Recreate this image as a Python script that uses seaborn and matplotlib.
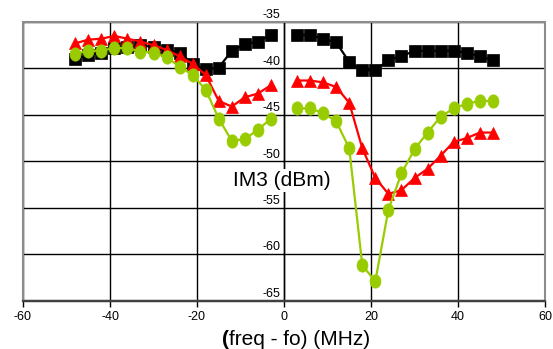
import numpy as np
import pandas as pd
import matplotlib
matplotlib.use("Agg")
import matplotlib.pyplot as plt
import matplotlib.transforms as mtransforms
from matplotlib.path import Path
from matplotlib.patches import Rectangle
import seaborn as sns

# ---- data ----
freq_neg = [-48, -45, -42, -39, -36, -33, -30, -27, -24, -21, -18, -15, -12, -9, -6, -3]
freq_pos = [3, 6, 9, 12, 15, 18, 21, 24, 27, 30, 33, 36, 39, 42, 45, 48]

black_neg = [-39.0, -38.6, -38.3, -37.8, -37.7, -37.5, -37.7, -38.0, -38.3, -39.5, -40.1, -39.9, -38.1, -37.4, -37.1, -36.4]
black_pos = [-36.4, -36.4, -36.8, -37.2, -39.3, -40.2, -40.2, -39.1, -38.7, -38.1, -38.1, -38.1, -38.1, -38.3, -38.7, -39.1]

red_neg = [-37.3, -36.9, -36.8, -36.5, -36.8, -37.1, -37.5, -38.0, -38.7, -39.5, -40.7, -43.5, -44.1, -43.1, -42.7, -41.8]
red_pos = [-41.3, -41.3, -41.5, -42.0, -43.7, -48.6, -51.8, -53.5, -53.1, -51.8, -50.8, -49.4, -47.9, -47.5, -46.9, -46.9]

green_neg = [-38.4, -38.1, -38.1, -37.8, -37.8, -38.2, -38.3, -38.8, -39.8, -40.7, -42.3, -45.4, -47.8, -47.6, -46.6, -45.4]
green_pos = [-44.3, -44.3, -44.8, -45.7, -48.6, -61.2, -62.9, -55.2, -51.3, -48.7, -46.9, -45.2, -44.3, -43.8, -43.5, -43.5]

x_ticks = [-60, -40, -20, 0, 20, 40, 60]
y_ticks = [-65, -60, -55, -50, -45, -40, -35]

# ---- style ----
sns.set_style("white")
plt.rcParams["font.family"] = ["Liberation Sans", "DejaVu Sans"]

fig = plt.figure(figsize=(5.53, 3.49), dpi=100)
ax = fig.add_axes([23 / 553, 1 - 300.7 / 349, 522 / 553, 278.7 / 349])

t = np.linspace(0, 2 * np.pi, 60)
ellipse = Path(np.column_stack([0.82 * np.cos(t), np.sin(t)]), closed=True)

series = [
    (black_neg, black_pos, "black", "s", 8.6),
    (red_neg, red_pos, "#FF0000", "^", 9.0),
    (green_neg, green_pos, "#99CC00", ellipse, 9.6),
]
for yneg, ypos, col, mk, ms in series:
    for xs, ys in ((freq_neg, yneg), (freq_pos, ypos)):
        sns.lineplot(x=xs, y=ys, ax=ax, color=col, marker=mk, markersize=ms,
                     markeredgecolor=col, markeredgewidth=0.5, linewidth=1.6,
                     zorder=3)

ax.set_xlim(-60, 60)
ax.set_ylim(-65, -35)
ax.set_xticks(x_ticks)
ax.set_yticks(y_ticks)
ax.set_xticklabels([str(v) for v in x_ticks])
ax.set_yticklabels([str(v) for v in y_ticks])
ax.set_xlabel("")
ax.set_ylabel("")

ax.grid(True, color="black", linewidth=1.0)
ax.set_axisbelow(True)

for s in ("top", "right"):
    ax.spines[s].set_visible(False)
ax.spines["left"].set_position(("data", 0))
ax.spines["left"].set_color("black")
ax.spines["left"].set_linewidth(1.0)
ax.spines["bottom"].set_color("#404040")
ax.spines["bottom"].set_linewidth(1.6)

ax.tick_params(axis="x", direction="out", length=4, width=1, color="black",
               pad=3.2, labelsize=9, labelcolor="black")
ax.tick_params(axis="y", length=0, pad=2.5, labelsize=9, labelcolor="black")
ax.tick_params(axis="x", bottom=True)

offset = mtransforms.ScaledTranslation(0, 6 / 72, fig.dpi_scale_trans)
for tk in ax.yaxis.get_major_ticks():
    tk.label1.set_transform(tk.label1.get_transform() + offset)

border = Rectangle((0, 0), 1, 1, transform=ax.transAxes, fill=False,
                   edgecolor="#8c8c8c", linewidth=1.5, clip_on=False, zorder=2.6)
ax.add_patch(border)
ax.plot([0, 1], [0, 0], transform=ax.transAxes, color="#404040", lw=1.6,
        clip_on=False, zorder=2.7)

ax.text(0.496, 0.4116, "IM3 (dBm)", transform=ax.transAxes, ha="center",
        va="baseline", fontsize=15, color="black", zorder=4,
        bbox=dict(facecolor="white", edgecolor="none", pad=1.5))

fig.text(229 / 553, 4 / 349, "(", ha="right", va="baseline", fontsize=15,
         fontweight="bold", color="black")
fig.text(229 / 553, 4 / 349, "freq - fo) (MHz)", ha="left", va="baseline",
         fontsize=15, color="black")

fig.savefig("out.png", dpi=100)
